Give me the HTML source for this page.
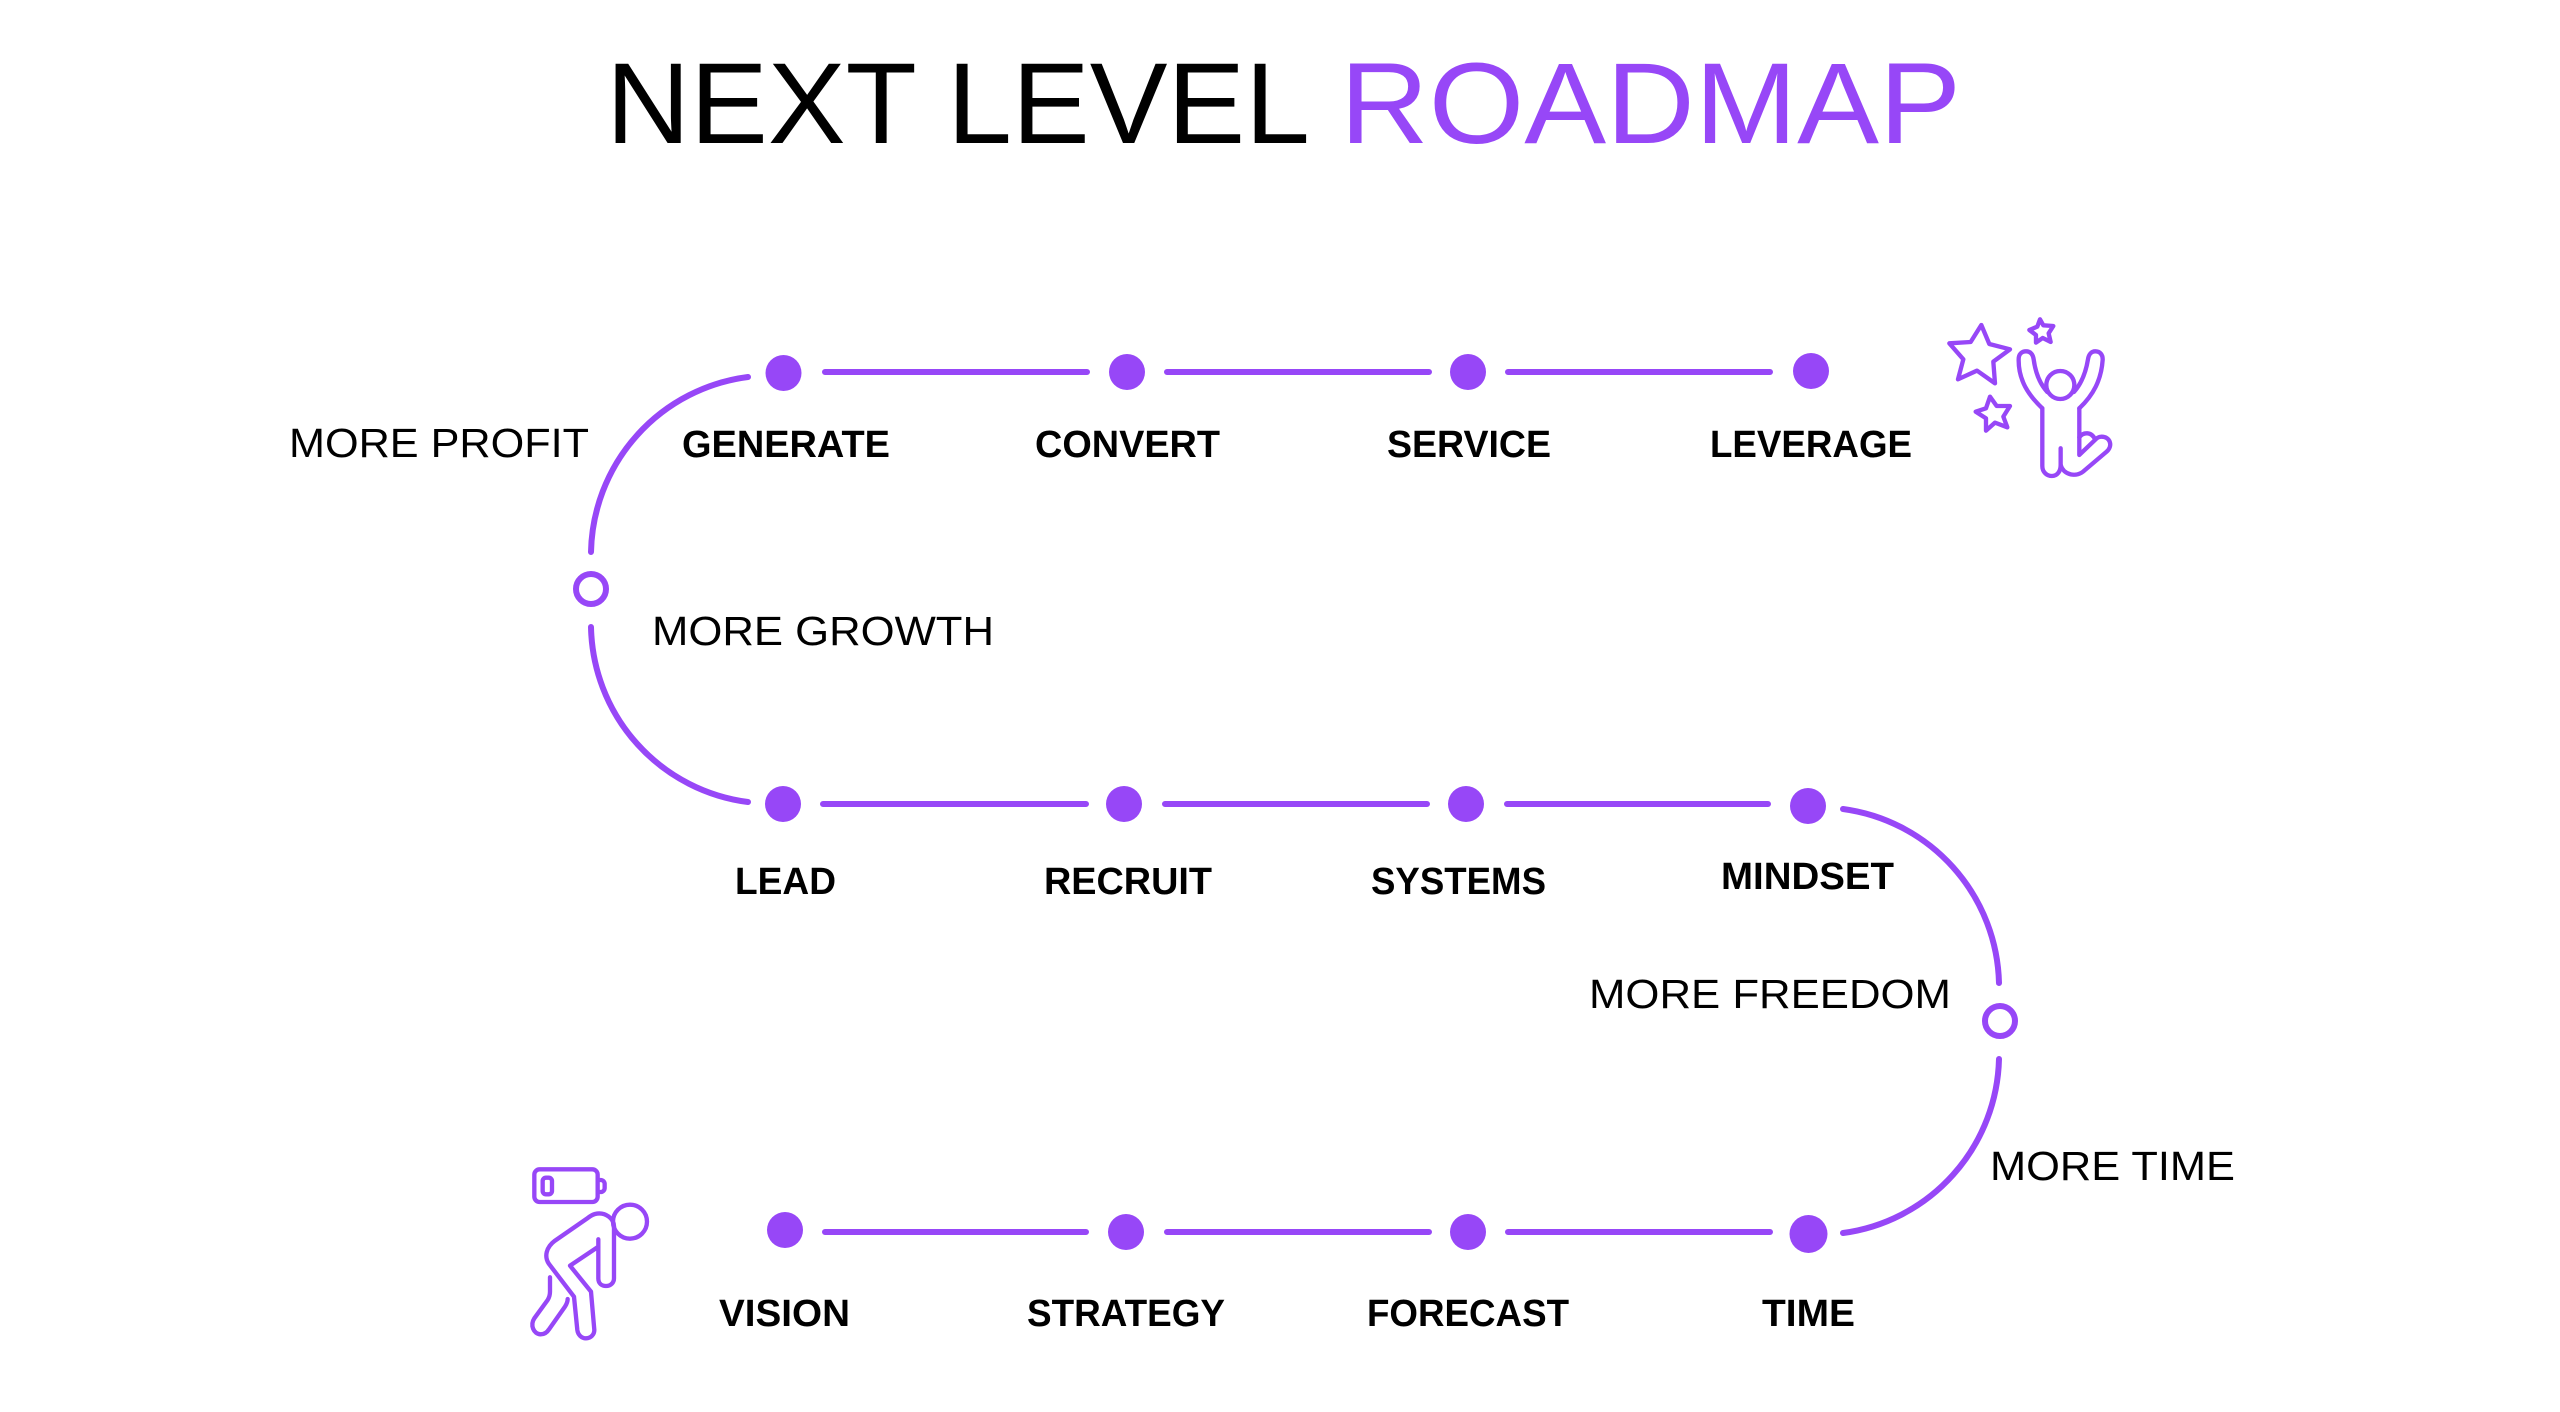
<!DOCTYPE html>
<html><head><meta charset="utf-8"><style>
html,body{margin:0;padding:0;background:#fff;width:2560px;height:1412px;overflow:hidden}
svg{display:block}
text{font-family:"Liberation Sans",sans-serif;fill:#000}
.b{font-size:38px;font-weight:700}
.r{font-size:41px}
.t{font-size:115px}
.l{stroke:#9747f7;stroke-width:6;fill:none;stroke-linecap:round;stroke-linejoin:round}
.i{stroke:#9747f7;stroke-width:13;fill:none;stroke-linecap:round;stroke-linejoin:round}
.d{fill:#9747f7}
</style></head><body>
<svg width="2560" height="1412" viewBox="0 0 2560 1412" xmlns="http://www.w3.org/2000/svg">
<text class="t" x="606" y="143" textLength="704" lengthAdjust="spacingAndGlyphs">NEXT LEVEL</text>
<text class="t" x="1340" y="143" textLength="621" lengthAdjust="spacingAndGlyphs" style="fill:#9747f7">ROADMAP</text>

<path class="l" d="M825 372H1087M1167 372H1429M1508 372H1770"/>
<path class="l" d="M823 804H1086M1165 804H1427M1507 804H1768"/>
<path class="l" d="M825 1232H1086M1167 1232H1429M1508 1232H1770"/>
<path class="l" d="M748 377A180 180 0 0 0 591 552"/>
<path class="l" d="M591 627A180 180 0 0 0 748 802"/>
<path class="l" d="M1843 809A180 180 0 0 1 1999 983"/>
<path class="l" d="M1999 1059A180 180 0 0 1 1843 1233"/>
<circle class="l" cx="591" cy="589" r="15"/>
<circle class="l" cx="2000" cy="1021" r="15"/>

<g class="d">
<circle cx="783.5" cy="373" r="18"/><circle cx="1127" cy="372" r="18"/><circle cx="1468" cy="372" r="18"/><circle cx="1811" cy="371" r="18"/>
<circle cx="783" cy="804" r="18"/><circle cx="1124" cy="804" r="18"/><circle cx="1466" cy="804" r="18"/><circle cx="1808" cy="806" r="18"/>
<circle cx="785" cy="1230" r="18"/><circle cx="1126" cy="1232" r="18"/><circle cx="1468" cy="1232" r="18"/><circle cx="1808.5" cy="1234" r="19"/>
</g>

<text class="r" x="289" y="457" textLength="300" lengthAdjust="spacingAndGlyphs">MORE PROFIT</text>
<text class="r" x="652" y="645" textLength="342" lengthAdjust="spacingAndGlyphs">MORE GROWTH</text>
<text class="r" x="1589" y="1008" textLength="362" lengthAdjust="spacingAndGlyphs">MORE FREEDOM</text>
<text class="r" x="1990" y="1180" textLength="245" lengthAdjust="spacingAndGlyphs">MORE TIME</text>

<text class="b" x="682" y="457" textLength="208" lengthAdjust="spacingAndGlyphs">GENERATE</text>
<text class="b" x="1035" y="457" textLength="185" lengthAdjust="spacingAndGlyphs">CONVERT</text>
<text class="b" x="1387" y="457" textLength="164" lengthAdjust="spacingAndGlyphs">SERVICE</text>
<text class="b" x="1710" y="457" textLength="202" lengthAdjust="spacingAndGlyphs">LEVERAGE</text>
<text class="b" x="735" y="894" textLength="101" lengthAdjust="spacingAndGlyphs">LEAD</text>
<text class="b" x="1044" y="894" textLength="168" lengthAdjust="spacingAndGlyphs">RECRUIT</text>
<text class="b" x="1371" y="894" textLength="175" lengthAdjust="spacingAndGlyphs">SYSTEMS</text>
<text class="b" x="1721" y="889" textLength="173" lengthAdjust="spacingAndGlyphs">MINDSET</text>
<text class="b" x="719" y="1326" textLength="131" lengthAdjust="spacingAndGlyphs">VISION</text>
<text class="b" x="1027" y="1326" textLength="198" lengthAdjust="spacingAndGlyphs">STRATEGY</text>
<text class="b" x="1367" y="1326" textLength="202" lengthAdjust="spacingAndGlyphs">FORECAST</text>
<text class="b" x="1762" y="1326" textLength="93" lengthAdjust="spacingAndGlyphs">TIME</text>

<!-- celebrating figure -->
<g transform="translate(1900 280) scale(.3333)">
<path class="i" d="M244 135L268 192L330 208L280 245L285 310L231 272L174 298L190 238L148 190L212 186Z"/>
<path class="i" d="M270 350L290 378L330 378L310 410L322 442L285 428L258 452L258 415L227 395L258 385Z"/>
<path class="i" d="M420 118L430 136L460 138L446 160L452 186L428 174L408 188L408 165L388 150L412 140Z"/>
<circle class="i" cx="481" cy="315" r="42"/>
<path class="i" d="M427 385C385 345 355 300 356 238C356 222 366 214 378 214C392 214 399 224 401 238C406 275 418 310 442 336"/>
<path class="i" d="M522 336C545 310 558 275 564 238C566 224 574 214 586 214C600 214 609 224 608 240C604 300 580 345 538 385"/>
<path class="i" d="M427 385V558C427 578 442 588 456 588C472 588 482 574 482 555V505"/>
<path class="i" d="M482 555C490 585 530 595 555 570L620 515C640 497 630 470 605 470C595 470 590 475 585 480L538 525V385"/>
<path class="i" d="M538 472C550 455 575 455 585 478"/>
</g>

<!-- exhausted figure -->
<g transform="translate(500 1150) scale(.3333)">
<rect class="i" x="103" y="58" width="190" height="98" rx="16"/>
<path class="i" d="M293 90H302A12 12 0 0 1 314 102V114A12 12 0 0 1 302 126H293"/>
<rect class="i" x="128" y="83" width="28" height="50" rx="10"/>
<circle class="i" cx="390" cy="215" r="51"/>
<path class="i" d="M295 268V385C295 400 305 408 318 408C332 408 342 398 342 385V235C345 205 315 185 285 192C275 195 268 200 262 205L165 272C138 292 132 320 147 342L222 440L232 540C234 555 245 565 258 565C273 565 283 553 283 540L273 425L210 347L295 290"/>
<path class="i" d="M150 382V425C150 435 148 442 143 450L103 505C90 525 100 552 122 553C133 553 142 546 147 538L195 470C200 462 203 455 203 447"/>
</g>
</svg>
</body></html>
